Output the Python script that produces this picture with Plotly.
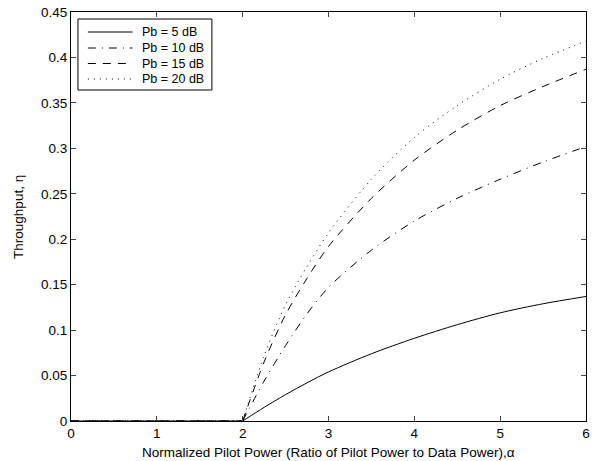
import plotly.graph_objects as go

alpha_zero = [0, 0.5, 1, 1.5, 2]
zero_vals = [0, 0, 0, 0, 0]
alpha = [2, 2.25, 2.5, 2.75, 3, 3.5, 4, 4.5, 5, 5.5, 6]
pb5 = [0, 0.015, 0.029, 0.042, 0.054, 0.074, 0.091, 0.106, 0.119, 0.129, 0.137]
pb10 = [0, 0.044, 0.083, 0.118, 0.147, 0.188, 0.220, 0.245, 0.266, 0.285, 0.302]
pb15 = [0, 0.065, 0.117, 0.157, 0.192, 0.245, 0.287, 0.320, 0.347, 0.368, 0.387]
pb20 = [0, 0.072, 0.128, 0.170, 0.207, 0.266, 0.312, 0.347, 0.376, 0.399, 0.418]
names = ["Pb = 5 dB", "Pb = 10 dB", "Pb = 15 dB", "Pb = 20 dB"]
x_ticks = [0, 1, 2, 3, 4, 5, 6]
y_ticks = [0, 0.05, 0.1, 0.15, 0.2, 0.25, 0.3, 0.35, 0.4, 0.45]
y_labels = ["0", "0.05", "0.1", "0.15", "0.2", "0.25", "0.3", "0.35", "0.4", "0.45"]
x_title = "Normalized Pilot Power (Ratio of Pilot Power to Data Power),α"
y_title = "Throughput, η"

dashes = ["solid", "8px,6px,1px,6px", "8px,7px", "1px,5px"]
series = [pb5, pb10, pb15, pb20]

W, H = 595, 461
L, R, T, B = 71, 5, 12, 40
pw, ph = W - L - R, H - T - B

def px_x(p):
    return (p - L) / pw

def px_y(p):
    return (H - B - p) / ph

FONT = "Liberation Sans, Arial, sans-serif"
fs = 13.5

fig = go.Figure()
for name, ys, d in zip(names, series, dashes):
    fig.add_trace(go.Scatter(x=alpha_zero, y=zero_vals, mode="lines", showlegend=False,
                             line=dict(color="black", width=1, dash=d)))
    fig.add_trace(go.Scatter(x=alpha, y=ys, mode="lines", name=name, showlegend=False,
                             line=dict(color="black", width=1, dash=d, shape="spline", smoothing=0.8)))

shapes = []
annotations = []
# legend box
shapes.append(dict(type="rect", xref="paper", yref="paper",
                   x0=px_x(78), x1=px_x(213), y0=px_y(90), y1=px_y(19),
                   line=dict(color="black", width=1), fillcolor="white", layer="above"))
rows = [32, 48, 63.5, 79]
for name, d, ry in zip(names, dashes, rows):
    shapes.append(dict(type="line", xref="paper", yref="paper",
                       x0=px_x(88), x1=px_x(133), y0=px_y(ry), y1=px_y(ry),
                       line=dict(color="black", width=1, dash=d), layer="above"))
    annotations.append(dict(text=name, xref="paper", yref="paper", x=px_x(141), y=px_y(ry),
                            xanchor="left", yanchor="middle", showarrow=False,
                            font=dict(family=FONT, size=12.5, color="black")))
annotations.append(dict(text=x_title, xref="paper", yref="paper", x=0.5, y=px_y(452),
                        xanchor="center", yanchor="middle", showarrow=False,
                        font=dict(family=FONT, size=fs, color="black")))
annotations.append(dict(text=y_title, xref="paper", yref="paper", x=px_x(18), y=0.5,
                        xanchor="center", yanchor="middle", textangle=-90, showarrow=False,
                        font=dict(family=FONT, size=fs, color="black")))

fig.update_layout(
    width=W, height=H,
    margin=dict(l=L, r=R, t=T, b=B),
    paper_bgcolor="white", plot_bgcolor="white",
    font=dict(family=FONT, size=fs, color="black"),
    showlegend=False,
    shapes=shapes, annotations=annotations,
    xaxis=dict(range=[0, 6], tickvals=x_ticks, ticks="inside", ticklen=5,
               showline=True, linecolor="black", linewidth=1, mirror="ticks",
               showgrid=False, zeroline=False, ticklabeloverflow="allow"),
    yaxis=dict(range=[0, 0.45], tickvals=y_ticks, ticktext=y_labels, ticks="inside", ticklen=5,
               showline=True, linecolor="black", linewidth=1, mirror="ticks",
               showgrid=False, zeroline=False, ticklabeloverflow="allow"),
)
fig.write_html("out.html", config={"displayModeBar": False},
               post_script="document.body.style.margin='0';document.body.style.overflow='hidden';")
